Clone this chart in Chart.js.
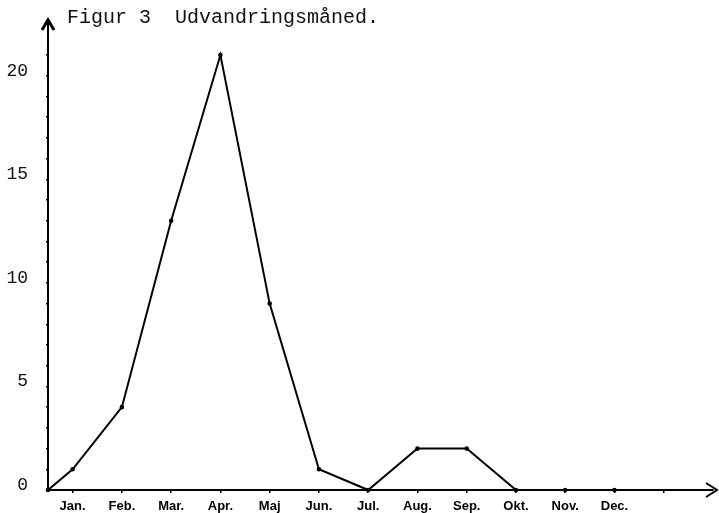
<!DOCTYPE html>
<html>
<head>
<meta charset="utf-8">
<script src="https://cdn.jsdelivr.net/npm/chart.js@4"></script>
<style>
  html, body { margin: 0; padding: 0; background: #fff; }
  #wrap { width: 719px; height: 513px; }
</style>
</head>
<body>
<div id="wrap"><canvas id="chart" width="719" height="513"></canvas></div>
<script>
// Figur 3 - emigrants per month
var titleText = "Figur 3  Udvandringsmåned.";
var months = ["Jan.", "Feb.", "Mar.", "Apr.", "Maj", "Jun.", "Jul.", "Aug.", "Sep.", "Okt.", "Nov.", "Dec."];
var emigrants = [1, 4, 13, 21, 9, 1, 0, 2, 2, 0, 0, 0];
var yLabels = [0, 5, 10, 15, 20];

var X_MIN = 0.5;
var X_MAX = 14;

// line starts at the axis origin
var points = [{x: X_MIN, y: 0}];
for (var i = 0; i < months.length; ++i) {
    points.push({x: i + 1, y: emigrants[i]});
}

// title and arrow heads on both axes
var figurePlugin = {
    id: "figure",
    afterDraw: function (chart) {
        var ctx = chart.ctx;
        var area = chart.chartArea;
        var x0 = chart.scales.x.getPixelForValue(X_MIN);
        var y0 = chart.scales.y.getPixelForValue(0);

        ctx.save();
        ctx.strokeStyle = "#000";
        ctx.lineWidth = 2;

        // y axis up to the top with arrow
        ctx.beginPath();
        ctx.moveTo(x0, y0);
        ctx.lineTo(x0, area.top - 4);
        ctx.stroke();
        ctx.lineWidth = 3;
        ctx.beginPath();
        ctx.moveTo(x0 - 6, area.top + 6);
        ctx.lineTo(x0, area.top - 4);
        ctx.lineTo(x0 + 6, area.top + 6);
        ctx.stroke();

        // x axis arrow
        ctx.lineWidth = 2;
        ctx.beginPath();
        ctx.moveTo(area.right - 7, y0 - 7);
        ctx.lineTo(area.right + 4, y0);
        ctx.lineTo(area.right - 7, y0 + 7);
        ctx.stroke();

        // title
        ctx.fillStyle = "#111";
        ctx.font = "20px 'Liberation Mono', 'DejaVu Sans Mono', monospace";
        ctx.textBaseline = "middle";
        ctx.textAlign = "left";
        ctx.fillText(titleText, 67, 18);
        ctx.restore();
    }
};

new Chart(document.getElementById("chart"), {
    type: "line",
    data: {
        datasets: [{
            label: "Udvandrede",
            data: points,
            borderColor: "#000",
            backgroundColor: "#000",
            borderWidth: 2,
            tension: 0,
            pointRadius: 1.3,
            pointHoverRadius: 1.3,
            clip: false
        }]
    },
    options: {
        responsive: false,
        animation: false,
        events: [],
        layout: {
            padding: {top: 24, right: 6, left: 0, bottom: 0}
        },
        plugins: {
            legend: {display: false},
            tooltip: {enabled: false}
        },
        scales: {
            x: {
                type: "linear",
                min: X_MIN,
                max: X_MAX,
                afterBuildTicks: function (axis) {
                    var t = [];
                    for (var v = 1; v <= 13.5; v += (v < 13 ? 1 : 0.75)) t.push({value: v});
                    axis.ticks = t;
                },
                afterFit: function (axis) {
                    axis.height = 23;
                    axis.paddingLeft = 0;
                    axis.paddingRight = 0;
                },
                border: {display: true, color: "#000", width: 2},
                grid: {
                    display: true,
                    drawOnChartArea: false,
                    drawTicks: true,
                    tickLength: 3,
                    color: "#000",
                    lineWidth: 1.5
                },
                ticks: {
                    autoSkip: false,
                    maxRotation: 0,
                    padding: 6,
                    color: "#000",
                    font: {family: "'Liberation Sans', Arial, sans-serif", size: 13, weight: "bold"},
                    callback: function (value) {
                        return months[value - 1] || "";
                    }
                }
            },
            y: {
                type: "linear",
                min: 0,
                max: 22.5,
                afterBuildTicks: function (axis) {
                    var t = [];
                    for (var v = 0; v <= 21; ++v) t.push({value: v});
                    axis.ticks = t;
                },
                afterFit: function (axis) {
                    axis.width = 48;
                    axis.paddingTop = 0;
                    axis.paddingBottom = 0;
                },
                border: {display: true, color: "#000", width: 2},
                grid: {
                    display: true,
                    drawOnChartArea: false,
                    drawTicks: true,
                    tickLength: 2,
                    color: "#000",
                    lineWidth: 1.5
                },
                ticks: {
                    autoSkip: false,
                    padding: 18,
                    labelOffset: -5,
                    color: "#111",
                    font: {family: "'Liberation Mono', 'DejaVu Sans Mono', monospace", size: 18},
                    callback: function (value) {
                        return yLabels.indexOf(value) >= 0 ? String(value) : "";
                    }
                }
            }
        }
    },
    plugins: [figurePlugin]
});
</script>
</body>
</html>
